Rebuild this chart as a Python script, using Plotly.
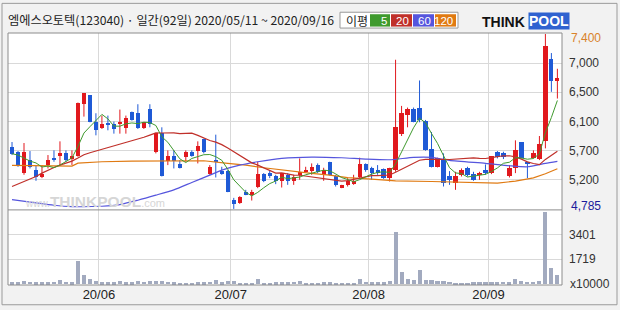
import numpy as np
import pandas as pd
import plotly.graph_objects as go

# ---------------- data ----------------
trade_dates = [d for d in pd.bdate_range("2020-05-11", "2020-09-16")
               if d != pd.Timestamp("2020-08-17")]   # 92 trading days

opens = [5710, 5640, 5320, 5515, 5365, 5255, 5440, 5550, 5580, 5615,
         5525, 5580, 6360, 6485, 6090, 5990, 6065, 6055, 6050, 5990,
         6230, 6215, 5990, 6280, 5640, 5920, 5500, 5575, 5450, 5565,
         5640, 5650, 5825, 5305, 5515, 5350, 5350, 4925, 4875, 5045,
         5000, 5120, 5305, 5320, 5280, 5195, 5295, 5195, 5285, 5335,
         5355, 5440, 5295, 5490, 5270, 5105, 5145, 5155, 5255, 5455,
         5390, 5360, 5375, 5245, 5365, 5910, 6195, 6280, 6300, 6105,
         5685, 5415, 5515, 5275, 5170, 5295, 5390, 5305, 5285, 5365,
         5320, 5640, 5615, 5270, 5400, 5785, 5490, 5540, 5525, 5795,
         7025, 6710]
highs = [5785, 5650, 5770, 5650, 5440, 5440, 5590, 5660, 5795, 5660,
         5660, 6375, 6515, 6485, 6215, 6180, 6180, 6090, 6270, 6180,
         6240, 6350, 6080, 6350, 5920, 6005, 5660, 5660, 5515, 5660,
         5660, 5795, 5835, 5440, 5895, 5415, 5365, 4950, 4975, 5070,
         5070, 5490, 5320, 5365, 5295, 5320, 5320, 5295, 5540, 5415,
         5465, 5465, 5400, 5490, 5295, 5145, 5245, 5295, 5550, 5465,
         5415, 5440, 5390, 5400, 7015, 6325, 6300, 6300, 6705, 6115,
         5935, 5550, 5615, 5350, 5340, 5390, 5415, 5340, 5340, 5450,
         5575, 5650, 5640, 5440, 5810, 5785, 5490, 5660, 5875, 7400,
         7115, 6880]
lows = [5590, 5415, 5295, 5390, 5205, 5245, 5390, 5490, 5440, 5490,
        5440, 5565, 6165, 6080, 5885, 5980, 5960, 5910, 5910, 5910,
        6105, 5980, 5980, 6005, 5615, 5270, 5440, 5390, 5390, 5490,
        5565, 5465, 5615, 5295, 5255, 5295, 5035, 4785, 4860, 4990,
        4910, 5095, 5185, 5245, 5155, 5105, 5145, 5145, 5220, 5335,
        5295, 5320, 5205, 5285, 5120, 5095, 5120, 5145, 5245, 5340,
        5220, 5295, 5235, 5195, 5340, 5875, 6005, 6080, 6080, 5655,
        5405, 5405, 5120, 5145, 5070, 5270, 5270, 5205, 5220, 5295,
        5305, 5540, 5530, 5255, 5320, 5540, 5245, 5540, 5515, 5690,
        6535, 6435]
closes = [5610, 5440, 5640, 5415, 5255, 5305, 5515, 5515, 5615, 5515,
          5575, 6375, 6515, 6090, 5960, 6050, 6040, 5975, 6080, 6140,
          6115, 5990, 6080, 6055, 5920, 5270, 5580, 5500, 5400, 5640,
          5575, 5720, 5640, 5415, 5480, 5305, 5045, 4860, 4960, 5000,
          5035, 5305, 5205, 5270, 5195, 5320, 5195, 5255, 5340, 5365,
          5415, 5335, 5365, 5295, 5135, 5135, 5195, 5195, 5450, 5365,
          5320, 5320, 5245, 5400, 6005, 6215, 6280, 6090, 6115, 5660,
          5415, 5540, 5170, 5220, 5270, 5365, 5285, 5220, 5320, 5320,
          5575, 5555, 5565, 5400, 5660, 5550, 5465, 5615, 5760, 7225,
          6695, 6735]
volumes = [136, 136, 204, 159, 136, 136, 136, 159, 272, 159,
           136, 1590, 610, 363, 204, 136, 136, 136, 182, 136,
           136, 182, 159, 204, 182, 204, 159, 136, 68, 68,
           68, 136, 136, 159, 272, 136, 182, 204, 91, 91,
           91, 363, 91, 91, 113, 136, 136, 159, 204, 91,
           91, 91, 136, 136, 91, 91, 91, 91, 363, 159,
           136, 136, 136, 227, 3560, 840, 386, 318, 1000, 272,
           318, 182, 227, 159, 91, 68, 91, 136, 136, 136,
           136, 136, 159, 136, 363, 182, 159, 159, 227, 4990,
           1130, 660]   # x10000 shares

# moving-average values before enough in-window closes exist
ma5_head = [5610, 5590, 5545, 5500]
ma20_head = [5120, 5155, 5195, 5230, 5270, 5320, 5365, 5405, 5440, 5470,
             5500, 5545, 5595, 5625, 5650, 5680, 5705, 5730, 5755]
# 60 / 120 day averages at these trading-day numbers
ma60_days = [0, 4, 7, 10, 15, 18, 21, 24, 27, 30, 33, 35, 38, 41, 45, 50,
             55, 59, 63, 67, 70, 73, 79, 83, 86, 89, 91]
ma60_vals = [4925, 4875, 4840, 4820, 4825, 4850, 4915, 4990, 5070, 5180,
             5290, 5365, 5440, 5490, 5540, 5560, 5550, 5530, 5520, 5555,
             5555, 5510, 5465, 5430, 5415, 5465, 5495]
ma120_days = [0, 10, 11, 15, 20, 26, 32, 36, 39, 42, 45, 48, 50, 53, 56,
              60, 64, 70, 75, 81, 84, 87, 89, 91]
ma120_vals = [5435, 5425, 5470, 5490, 5500, 5505, 5505, 5465, 5440, 5400,
              5365, 5340, 5317, 5290, 5254, 5230, 5205, 5195, 5180, 5170,
              5200, 5250, 5310, 5385]

price_tick_labels = ["7,000", "6,500", "6,100", "5,700", "5,200"]
vol_tick_vals = [1719, 3401]
title_text = "엠에스오토텍(123040) · 일간(92일) 2020/05/11 ~ 2020/09/16"

# ---------------- derived ----------------
n = len(closes)
x = np.arange(n)
cl = pd.Series(closes, dtype=float)
ma5 = cl.rolling(5).mean()
ma5.iloc[:4] = ma5_head
ma20 = cl.rolling(20).mean()
ma20.iloc[:19] = ma20_head

month_bounds = [i - 0.5 for i in range(1, n) if trade_dates[i].month != trade_dates[i - 1].month]
month_labels = [trade_dates[int(b + 0.5)].strftime("%y/%m") for b in month_bounds]

hi, lo = max(highs), min(lows)
grid_vals = [hi - k * (hi - lo) / 6 for k in range(1, 6)]
pad = (hi - lo) / 177

RED = "#e1191e"
BLUE = "#1f5ad6"
C5, C20, C60, C120 = "#3f9a2e", "#c0302a", "#5555dd", "#e07a12"
GRID = "#d9d9d9"

fig = go.Figure()

# wicks
for up, col in ((True, RED), (False, BLUE)):
    wx, wy = [], []
    for i in range(n):
        if (closes[i] >= opens[i]) == up:
            wx += [i, i, None]
            wy += [lows[i], highs[i], None]
    fig.add_trace(go.Scatter(x=wx, y=wy, mode="lines", line=dict(color=col, width=1),
                             hoverinfo="skip", showlegend=False, xaxis="x", yaxis="y"))
# bodies
for up, col in ((True, RED), (False, BLUE)):
    idx = [i for i in range(n) if (closes[i] >= opens[i]) == up]
    base = [min(opens[i], closes[i]) for i in idx]
    hgt = [max(abs(closes[i] - opens[i]), 12) for i in idx]
    fig.add_trace(go.Bar(x=idx, y=hgt, base=base, width=0.7, marker=dict(color=col, line=dict(width=0)),
                         showlegend=False, xaxis="x", yaxis="y"))

# moving averages
fig.add_trace(go.Scatter(x=ma120_days, y=ma120_vals, mode="lines", line=dict(color=C120, width=1.2),
                         showlegend=False, xaxis="x", yaxis="y"))
fig.add_trace(go.Scatter(x=ma60_days, y=ma60_vals, mode="lines", line=dict(color=C60, width=1.2, shape="spline", smoothing=0.6),
                         showlegend=False, xaxis="x", yaxis="y"))
fig.add_trace(go.Scatter(x=x, y=ma20, mode="lines", line=dict(color=C20, width=1.2),
                         showlegend=False, xaxis="x", yaxis="y"))
fig.add_trace(go.Scatter(x=x, y=ma5, mode="lines", line=dict(color=C5, width=1),
                         showlegend=False, xaxis="x", yaxis="y"))

# volume
fig.add_trace(go.Bar(x=x, y=volumes, width=0.68, marker=dict(color="#a2aabf", line=dict(width=0)),
                     showlegend=False, xaxis="x2", yaxis="y2"))

# ---------------- layout ----------------
L, R, T, B = 8, 562, 33, 288
W, H = 620, 310
SPLIT = 212


def px(xp):
    return (xp - L) / (R - L)


def py(yp):
    return (B - yp) / (B - T)


split_paper = py(SPLIT)
xr = [-0.67, n - 1 + 0.77]
tickfont = dict(family="Liberation Sans, Arial, sans-serif", size=12, color="#333333")

fig.update_layout(
    width=W, height=H,
    margin=dict(l=L, r=W - R, t=T, b=H - B),
    paper_bgcolor="#f2f2f2", plot_bgcolor="#ffffff",
    barmode="overlay", bargap=0,
    showlegend=False,
    xaxis=dict(domain=[0, 1], range=xr, anchor="y", tickvals=month_bounds, showticklabels=False,
               showgrid=True, gridcolor=GRID, gridwidth=1, zeroline=False, ticks="", fixedrange=True),
    xaxis2=dict(domain=[0, 1], range=xr, anchor="y2", tickvals=month_bounds, ticktext=month_labels,
                showgrid=True, gridcolor=GRID, gridwidth=1, zeroline=False, ticks="",
                tickfont=dict(family="Liberation Sans, Arial, sans-serif", size=13, color="#222222")),
    yaxis=dict(domain=[split_paper, 1], range=[lo - pad, hi + pad], side="right", anchor="x",
               tickvals=grid_vals, ticktext=price_tick_labels, showgrid=True, gridcolor=GRID,
               zeroline=False, ticks="", tickfont=tickfont, ticklabelstandoff=6),
    yaxis2=dict(domain=[0, split_paper], range=[-68, 5108], side="right", anchor="x2",
                tickvals=vol_tick_vals, ticktext=[str(v) for v in vol_tick_vals], showgrid=True,
                gridcolor=GRID, zeroline=False, ticks="", tickfont=tickfont, ticklabelstandoff=6),
)

shapes = []
# outer frame
shapes.append(dict(type="rect", xref="paper", yref="paper", x0=px(2), x1=px(617), y0=py(3), y1=py(308),
                   line=dict(color="#9a9a9a", width=1), layer="below"))
# plot border and panel separator
shapes.append(dict(type="rect", xref="paper", yref="paper", x0=0, x1=1, y0=0, y1=1,
                   line=dict(color="#8c8c8c", width=1)))
shapes.append(dict(type="line", xref="paper", yref="paper", x0=0, x1=1, y0=split_paper, y1=split_paper,
                   line=dict(color="#8c8c8c", width=1)))
# legend box
shapes.append(dict(type="rect", xref="paper", yref="paper", x0=px(340), x1=px(458), y0=py(28), y1=py(12),
                   fillcolor="#ffffff", line=dict(color="#9a9a9a", width=1)))
leg = [("5", C5, 370, 390), ("20", C20, 391, 412), ("60", C60, 413, 434), ("120", C120, 435, 456)]
for lab, col, a, b in leg:
    shapes.append(dict(type="rect", xref="paper", yref="paper", x0=px(a), x1=px(b), y0=py(26.5), y1=py(14),
                       fillcolor=col, line=dict(width=0)))
fig.update_layout(shapes=shapes)

ann = []
ann.append(dict(text=title_text, x=px(6), y=py(19.5), xref="paper", yref="paper", xanchor="left",
                yanchor="middle", showarrow=False,
                font=dict(family="Noto Sans CJK KR", size=12.2, color="#222222")))
ann.append(dict(text="이평", x=px(357), y=py(20), xref="paper", yref="paper", xanchor="center",
                yanchor="middle", showarrow=False, font=dict(family="Noto Sans CJK KR", size=12, color="#222222")))
for lab, col, a, b in leg:
    ann.append(dict(text=lab, x=px(b - 1), y=py(20.5), xref="paper", yref="paper", xanchor="right",
                    yanchor="middle", showarrow=False,
                    font=dict(family="Liberation Sans, Arial", size=11.5, color="#ffffff")))
# logo
ann.append(dict(text="<b>THINK</b>", x=px(527), y=py(21.5), xref="paper", yref="paper", xanchor="right",
                yanchor="middle", showarrow=False,
                font=dict(family="Liberation Sans, Arial", size=14, color="#111111")))
ann.append(dict(text="<b>POOL</b>", x=px(528), y=py(21), xref="paper", yref="paper", xanchor="left",
                yanchor="middle", showarrow=False, bgcolor="#2f62d0", borderpad=0,
                font=dict(family="Liberation Sans, Arial", size=14, color="#ffffff")))
# watermark
ann.append(dict(text="<span style='font-size:10px'>www.</span><b>THINKPOOL</b><span style='font-size:11px'>.com</span>",
                x=px(23), y=py(203), xref="paper", yref="paper", xanchor="left", yanchor="middle",
                showarrow=False, font=dict(family="Liberation Sans, Arial", size=15.5, color="#d6d6d6")))
# extreme price labels
ann.append(dict(text=f"{hi:,}", x=px(569), y=py(38), xref="paper", yref="paper", xanchor="left",
                yanchor="middle", showarrow=False,
                font=dict(family="Liberation Sans, Arial", size=12, color="#d9822b")))
ann.append(dict(text=f"{lo:,}", x=px(569), y=py(208), xref="paper", yref="paper", xanchor="left",
                yanchor="middle", showarrow=False,
                font=dict(family="Liberation Sans, Arial", size=12, color="#1c1c9c")))
ann.append(dict(text="x10000", x=px(612), y=py(287), xref="paper", yref="paper", xanchor="right",
                yanchor="middle", showarrow=False,
                font=dict(family="Liberation Sans, Arial", size=12, color="#333333")))
fig.update_layout(annotations=ann)

fig.write_html("out.html")
